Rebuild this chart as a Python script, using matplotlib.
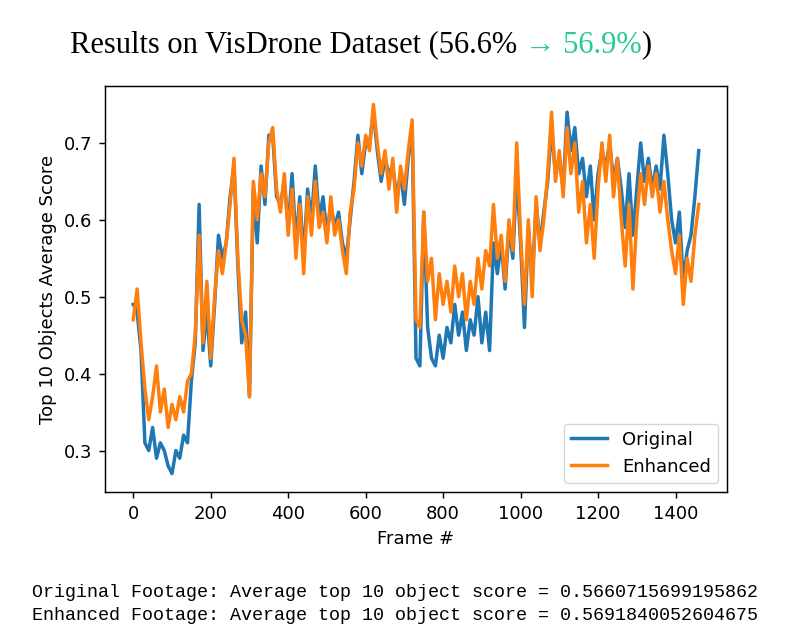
# -*- coding: utf-8 -*-
""" VisDrone top-10 object score, original vs enhanced footage """
import numpy as np
import matplotlib
matplotlib.use("Agg")
import matplotlib.pyplot as plt

# -----------------------------------------------------------------------------
# Data (one value every 10 frames)
# -----------------------------------------------------------------------------
frames = list(range(0, 1470, 10))

original = [
    0.49, 0.48, 0.43, 0.31, 0.30, 0.33, 0.29, 0.31, 0.30, 0.28,   # 0-90
    0.27, 0.30, 0.29, 0.32, 0.31, 0.39, 0.44, 0.62, 0.43, 0.48,   # 100-190
    0.41, 0.49, 0.58, 0.55, 0.57, 0.63, 0.67, 0.54, 0.44, 0.48,   # 200-290
    0.37, 0.64, 0.57, 0.67, 0.62, 0.71, 0.71, 0.63, 0.62, 0.65,   # 300-390
    0.59, 0.66, 0.57, 0.63, 0.55, 0.64, 0.60, 0.67, 0.60, 0.63,   # 400-490
    0.58, 0.62, 0.59, 0.61, 0.57, 0.55, 0.60, 0.65, 0.71, 0.66,   # 500-590
    0.70, 0.70, 0.74, 0.69, 0.65, 0.68, 0.66, 0.67, 0.63, 0.66,   # 600-690
    0.62, 0.68, 0.72, 0.42, 0.41, 0.61, 0.46, 0.42, 0.41, 0.45,   # 700-790
    0.42, 0.46, 0.44, 0.49, 0.45, 0.48, 0.43, 0.47, 0.45, 0.50,   # 800-890
    0.44, 0.48, 0.43, 0.57, 0.53, 0.57, 0.51, 0.59, 0.55, 0.66,   # 900-990
    0.57, 0.46, 0.59, 0.52, 0.62, 0.57, 0.61, 0.65, 0.72, 0.66,   # 1000-1090
    0.68, 0.64, 0.74, 0.69, 0.72, 0.66, 0.68, 0.63, 0.67, 0.60,   # 1100-1190
    0.66, 0.69, 0.67, 0.70, 0.65, 0.68, 0.64, 0.59, 0.66, 0.58,   # 1200-1290
    0.64, 0.70, 0.65, 0.68, 0.64, 0.67, 0.64, 0.71, 0.66, 0.60,   # 1300-1390
    0.57, 0.61, 0.52, 0.56, 0.58, 0.63, 0.69,                     # 1400-1460
]

enhanced = [
    0.47, 0.51, 0.44, 0.38, 0.34, 0.37, 0.41, 0.35, 0.38, 0.33,   # 0-90
    0.36, 0.34, 0.37, 0.35, 0.39, 0.40, 0.45, 0.58, 0.44, 0.52,   # 100-190
    0.42, 0.50, 0.56, 0.53, 0.57, 0.62, 0.68, 0.55, 0.47, 0.45,   # 200-290
    0.37, 0.65, 0.60, 0.66, 0.63, 0.70, 0.72, 0.64, 0.61, 0.66,   # 300-390
    0.58, 0.64, 0.55, 0.62, 0.53, 0.63, 0.58, 0.65, 0.59, 0.61,   # 400-490
    0.57, 0.63, 0.58, 0.60, 0.56, 0.53, 0.61, 0.64, 0.70, 0.67,   # 500-590
    0.71, 0.69, 0.75, 0.70, 0.66, 0.69, 0.64, 0.68, 0.61, 0.67,   # 600-690
    0.64, 0.69, 0.73, 0.47, 0.46, 0.61, 0.52, 0.55, 0.47, 0.53,   # 700-790
    0.49, 0.52, 0.48, 0.54, 0.50, 0.53, 0.47, 0.52, 0.49, 0.55,   # 800-890
    0.51, 0.56, 0.54, 0.62, 0.55, 0.58, 0.52, 0.60, 0.56, 0.70,   # 900-990
    0.58, 0.49, 0.60, 0.50, 0.63, 0.56, 0.60, 0.66, 0.74, 0.65,   # 1000-1090
    0.69, 0.63, 0.72, 0.66, 0.70, 0.61, 0.65, 0.57, 0.62, 0.55,   # 1100-1190
    0.64, 0.70, 0.65, 0.71, 0.63, 0.68, 0.60, 0.54, 0.62, 0.51,   # 1200-1290
    0.60, 0.66, 0.62, 0.67, 0.63, 0.66, 0.61, 0.65, 0.60, 0.56,   # 1300-1390
    0.53, 0.58, 0.49, 0.55, 0.52, 0.58, 0.62,                     # 1400-1460
]

series_labels = ["Original", "Enhanced"]
title_parts = ["Results on VisDrone Dataset (56.6% ", "\u2192 56.9%", ")"]
title_colors = ["black", "#2bc98e", "black"]
summary_lines = [
    "Original Footage: Average top 10 object score = 0.5660715699195862",
    "Enhanced Footage: Average top 10 object score = 0.5691840052604675",
]

# -----------------------------------------------------------------------------
# Helpers
# -----------------------------------------------------------------------------
def colored_title(fig, x, y, parts, colors, **kw):
    """ Draw a line of text made of pieces in different colours. """
    renderer = fig.canvas.get_renderer()
    for part, color in zip(parts, colors):
        t = fig.text(x, y, part, color=color, va="center", ha="left", **kw)
        bb = t.get_window_extent(renderer=renderer)
        x += bb.width / fig.bbox.width


# -----------------------------------------------------------------------------
# main
# -----------------------------------------------------------------------------
if __name__ == "__main__":
    fs = 13
    fig = plt.figure(figsize=(7.93, 6.43), dpi=100)
    ax = fig.add_axes([0.1324, 0.2348, 0.7844, 0.6314])

    ax.plot(frames, original, color="tab:blue", lw=2.5, label=series_labels[0])
    ax.plot(frames, enhanced, color="tab:orange", lw=2.5, label=series_labels[1])

    ax.set_xlabel("Frame #", fontsize=fs, labelpad=5)
    ax.set_ylabel("Top 10 Objects Average Score", fontsize=fs, labelpad=5)
    ax.set_xticks([0, 200, 400, 600, 800, 1000, 1200, 1400])
    ax.set_yticks([0.3, 0.4, 0.5, 0.6, 0.7])
    ax.tick_params(labelsize=fs, length=4.6, width=1.05, pad=4.6)
    for sp in ax.spines.values():
        sp.set_linewidth(1.05)

    leg = ax.legend(loc="lower right", fontsize=fs)

    colored_title(fig, 0.088, 0.930, title_parts, title_colors,
                  fontsize=22, family=["Liberation Serif", "DejaVu Serif"])

    fig.text(0.040, 0.0778, summary_lines[0], fontsize=13.25,
             family="Liberation Mono", va="center")
    fig.text(0.040, 0.042, summary_lines[1], fontsize=13.25,
             family="Liberation Mono", va="center")

    plt.savefig("out.png", dpi=100)
